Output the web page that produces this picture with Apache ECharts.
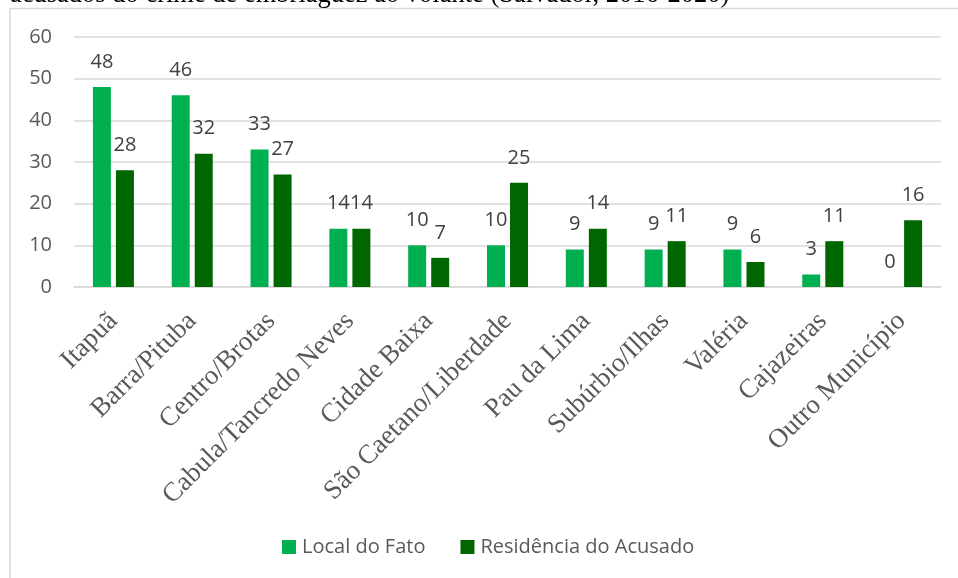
<!DOCTYPE html>
<html>
<head>
<meta charset="utf-8">
<script src="https://cdn.jsdelivr.net/npm/echarts@6/dist/echarts.min.js"></script>
<style>
  html, body { margin: 0; padding: 0; background: #fff; }
  #chart { width: 958px; height: 578px; }
</style>
</head>
<body>
<div id="chart"></div>
<script>
// dados
const bairros = ["Itapuã", "Barra/Pituba", "Centro/Brotas", "Cabula/Tancredo Neves", "Cidade Baixa",
  "São Caetano/Liberdade", "Pau da Lima", "Subúrbio/Ilhas", "Valéria", "Cajazeiras", "Outro Município"];
const localFato = [48, 46, 33, 14, 10, 10, 9, 9, 9, 3, 0];
const residencia = [28, 32, 27, 14, 7, 25, 14, 11, 6, 11, 16];
const yTicks = [0, 10, 20, 30, 40, 50, 60];
const titulo = "acusados do crime de embriaguez ao volante (Salvador, 2016-2020)";

const myChart = echarts.init(document.getElementById("chart"));

const labelStyle = {
  show: true,
  position: "top",
  distance: 15,
  color: "#404040",
  fontSize: 20,
  fontFamily: "Open Sans"
};

const option = {
  backgroundColor: "#fff",
  animation: false,
  graphic: [
    { // moldura do gráfico
      type: "rect",
      shape: { x: 10, y: 8.5, width: 1000, height: 600 },
      style: { fill: "none", stroke: "#d9d9d9", lineWidth: 1.5 }
    },
    { // legenda do documento (cortada no topo)
      type: "text",
      left: 10,
      top: -18.5,
      style: {
        text: titulo,
        fill: "#000",
        font: "26.5px 'Liberation Serif'"
      }
    }
  ],
  grid: { left: 74, right: 17, top: 37, bottom: 291 },
  legend: {
    left: 277,
    top: 532,
    itemWidth: 14,
    itemHeight: 14,
    itemGap: 35,
    icon: "rect",
    textStyle: { color: "#595959", fontSize: 20, fontFamily: "Open Sans", padding: [0, 0, 0, 1] },
    data: ["Local do Fato", "Residência do Acusado"]
  },
  xAxis: {
    type: "category",
    data: bairros,
    axisLine: { lineStyle: { color: "#d9d9d9", width: 1.5 } },
    axisTick: { show: false },
    axisLabel: {
      rotate: 45,
      interval: 0,
      margin: 30,
      color: "#595959",
      fontSize: 27,
      fontFamily: "Liberation Serif"
    }
  },
  yAxis: {
    type: "value",
    min: yTicks[0],
    max: yTicks[yTicks.length - 1],
    interval: 10,
    axisLine: { show: false },
    axisTick: { show: false },
    axisLabel: { margin: 22, color: "#595959", fontSize: 20, fontFamily: "Open Sans" },
    splitLine: { lineStyle: { color: "#d9d9d9", width: 1.5 } }
  },
  series: [
    {
      type: "bar",
      name: "Local do Fato",
      data: localFato,
      barWidth: 18,
      barGap: "28%",
      itemStyle: { color: "#00b050" },
      label: labelStyle
    },
    {
      type: "bar",
      name: "Residência do Acusado",
      data: residencia,
      barWidth: 18,
      itemStyle: { color: "#006600" },
      label: labelStyle
    }
  ]
};
myChart.setOption(option);
</script>
</body>
</html>
